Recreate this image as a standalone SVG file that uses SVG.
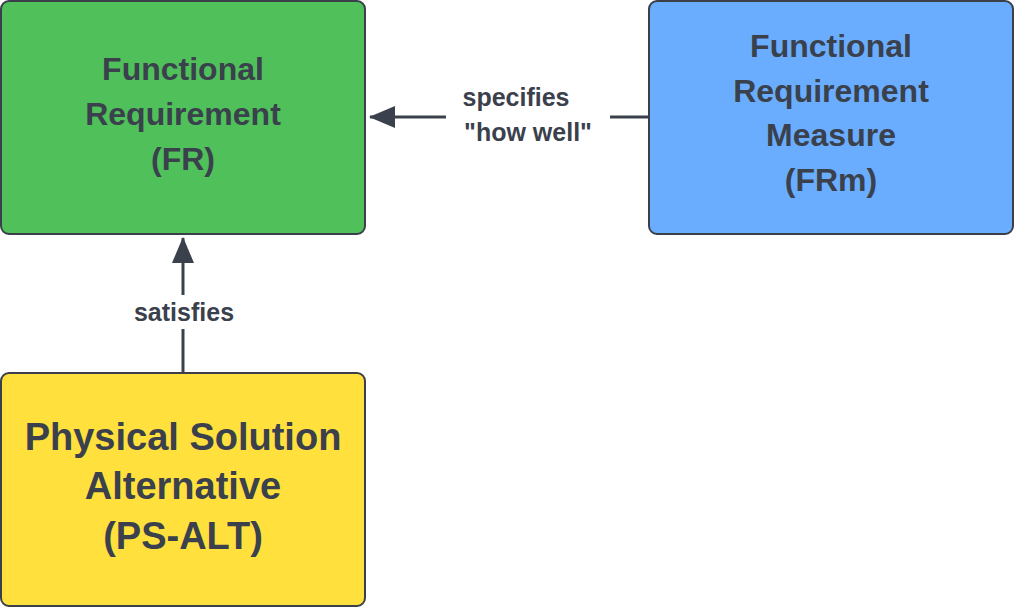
<svg xmlns="http://www.w3.org/2000/svg" width="1014" height="608" viewBox="0 0 1014 608">
<style>
.box{stroke:#3a3f4a;stroke-width:2}
.t{font-family:"Liberation Sans",Arial,sans-serif;font-weight:bold;fill:#3a414c;text-anchor:middle}
.n{font-size:32px}.b{font-size:38px}.l{font-size:25px}
.c{stroke:#3a414c;stroke-width:3;fill:none}
</style>
<defs><marker id="a" markerWidth="10" markerHeight="10" refX="9" refY="5" orient="auto" markerUnits="userSpaceOnUse" viewBox="0 0 10 10"><path d="M0,0L10,5L0,10z" fill="#3a414c"/></marker>
<marker id="ah" markerWidth="26" markerHeight="22" refX="25" refY="11" orient="auto" markerUnits="userSpaceOnUse"><path d="M0,0L26,11L0,22z" fill="#3a414c"/></marker></defs>
<rect width="1014" height="608" fill="#fff"/>
<g id="connectors">
<path class="c" d="M649,117H370" marker-end="url(#ah)"/>
<rect x="446" y="82" width="164" height="68" fill="#fff"/>
<text class="t l" x="516" y="106">specifies</text>
<text class="t l" x="528" y="141">"how well"</text>
<path class="c" d="M183,372V238" marker-end="url(#ah)"/>
<rect x="120" y="295" width="126" height="34" fill="#fff"/>
<text class="t l" x="184" y="321">satisfies</text>
</g>
<g id="fr"><rect class="box" x="1" y="1" width="364" height="233" rx="8" fill="#4fc05a"/>
<text class="t n" x="183" y="80">Functional</text><text class="t n" x="183" y="125">Requirement</text><text class="t n" x="183" y="170">(FR)</text></g>
<g id="frm"><rect class="box" x="649" y="1" width="364" height="233" rx="8" fill="#6aadfe"/>
<text class="t n" x="831" y="57">Functional</text><text class="t n" x="831" y="102">Requirement</text><text class="t n" x="831" y="146">Measure</text><text class="t n" x="831" y="191">(FRm)</text></g>
<g id="ps"><rect class="box" x="1" y="373" width="364" height="233" rx="8" fill="#ffe03d"/>
<text class="t b" x="183" y="450">Physical Solution</text><text class="t b" x="183" y="499">Alternative</text><text class="t b" x="183" y="549">(PS-ALT)</text></g>
</svg>
